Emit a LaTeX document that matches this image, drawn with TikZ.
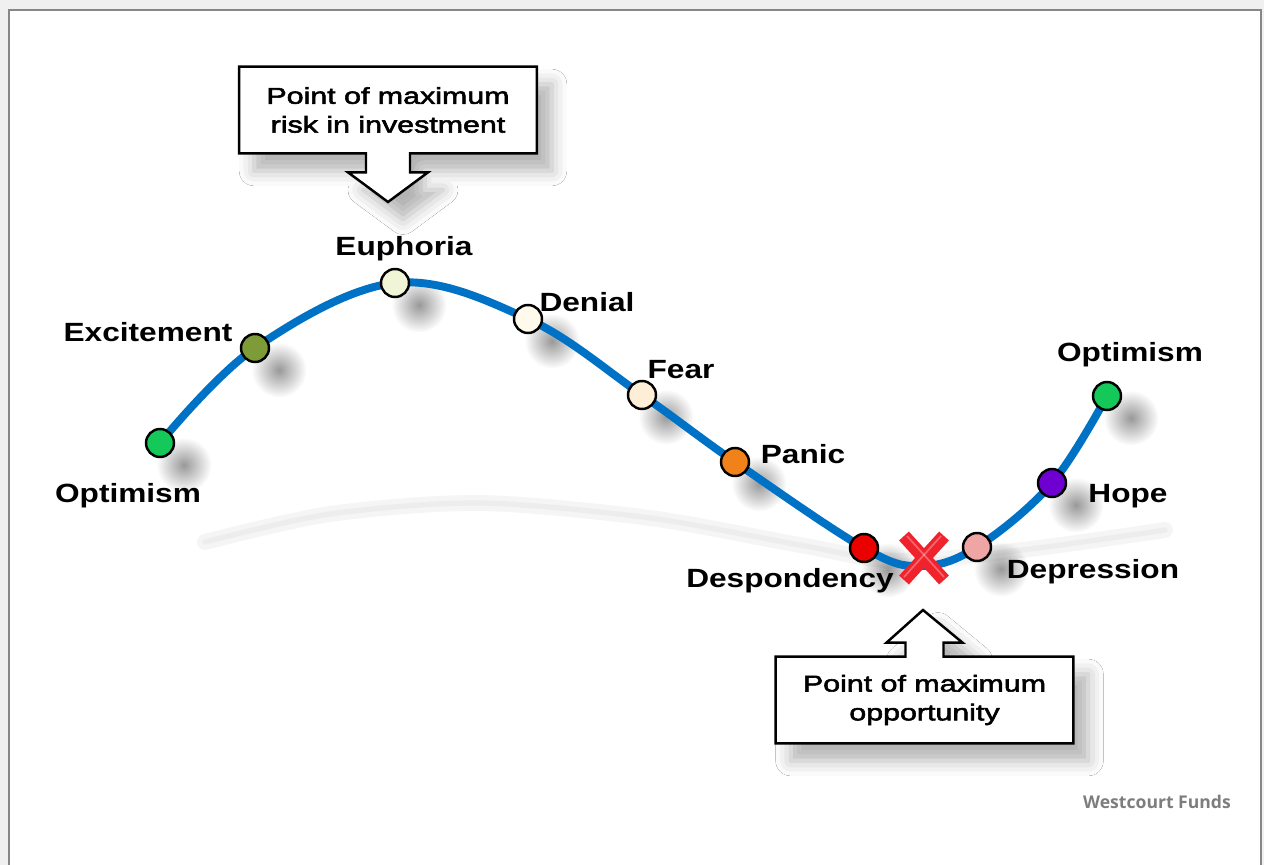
\documentclass[tikz,border=0pt]{standalone}
\usepackage{fontspec}
\newfontfamily\labelfont[FakeStretch=1.2]{Liberation Sans}
\newfontfamily\boxfont[FakeStretch=1.33,FakeBold=2.5]{Liberation Sans}
\newfontfamily\brandfont{Open Sans}
\usetikzlibrary{calc,positioning,backgrounds,shadows.blur,fadings}
\tikzfading[name=softdot, inner color=transparent!20, outer color=transparent!100]
\definecolor{curveblue}{RGB}{0,114,198}
\definecolor{optgreen}{RGB}{20,200,90}
\definecolor{excgreen}{RGB}{125,155,55}
\definecolor{eupcream}{RGB}{240,245,215}
\definecolor{dencream}{RGB}{255,250,235}
\definecolor{feacream}{RGB}{255,238,215}
\definecolor{panorange}{RGB}{240,130,25}
\definecolor{desred}{RGB}{235,0,0}
\definecolor{deppink}{RGB}{240,165,165}
\definecolor{hoppurple}{RGB}{110,0,210}
\definecolor{crossred}{RGB}{240,35,45}
\definecolor{framegray}{RGB}{135,135,135}
\definecolor{brandgray}{RGB}{125,125,125}
\tikzset{stage/.style={circle, draw=black, line width=1.4pt, minimum size=0.56cm, inner sep=0pt}}
\tikzset{stagelabel/.style={font=\labelfont\bfseries\fontsize{15}{18}\selectfont, anchor=base, inner sep=0pt}}
\tikzset{dotshadow/.style={fill=black, opacity=0.5, path fading=softdot}}
\tikzset{callout/.style={draw=black, line width=1.4pt, fill=white,
  blur shadow={shadow xshift=0.3cm, shadow yshift=-0.35cm, shadow blur radius=0.3cm,
  shadow opacity=30}}}
\tikzset{callouttext/.style={font=\boxfont\fontsize{13}{16.4}\selectfont, align=center,
  minimum width=5.94cm, minimum height=1.72cm, inner sep=0pt}}

\begin{document}
\begin{tikzpicture}[x=0.02cm, y=-0.02cm]
  \useasboundingbox (0,0) rectangle (1264,865);
  \node[stage, fill=optgreen] (optA) at (160,443) {};
  \node[stage, fill=excgreen] (exc) at (255,348) {};
  \node[stage, fill=eupcream] (eup) at (395,283) {};
  \node[stage, fill=dencream] (den) at (528,319) {};
  \node[stage, fill=feacream] (fea) at (642,395) {};
  \node[stage, fill=panorange] (pan) at (735,462) {};
  \node[stage, fill=desred] (des) at (864,548) {};
  \coordinate (low) at (921,566);
  \node[stage, fill=deppink] (dep) at (977,547) {};
  \node[stage, fill=hoppurple] (hop) at (1052,483) {};
  \node[stage, fill=optgreen] (optB) at (1107,396) {};

  \node[stagelabel] at (128,502) {Optimism};
  \node[stagelabel] at (148,341) {Excitement};
  \node[stagelabel] at (404,255) {Euphoria};
  \node[stagelabel] at (587,311) {Denial};
  \node[stagelabel] at (681,378) {Fear};
  \node[stagelabel] at (803,463) {Panic};
  \node[stagelabel] at (790,587) {Despondency};
  \node[stagelabel] at (1093,578) {Depression};
  \node[stagelabel] at (1128,502) {Hope};
  \node[stagelabel] at (1130,361) {Optimism};

  \node[callouttext] (risk) at (388,110) {Point of maximum\\risk in investment};
  \coordinate (risktip) at (388,202);
  \node[callouttext] (oppo) at (924.5,700) {Point of maximum\\opportunity};
  \coordinate (oppotip) at (923,610);

  \coordinate (cross) at (924,558);
  \draw[crossred, line width=7.5pt] ($(cross)+(-20,-22)$) -- ($(cross)+(20,22)$);
  \draw[crossred, line width=7.5pt] ($(cross)+(20,-22)$) -- ($(cross)+(-20,22)$);
  \draw[white, opacity=0.3, line width=1pt] ($(cross)+(-17,-22)$) -- ($(cross)+(20,19)$);
  \draw[white, opacity=0.3, line width=1pt] ($(cross)+(17,-22)$) -- ($(cross)+(-20,19)$);

  \node[font=\brandfont\bfseries\fontsize{10}{12}\selectfont, text=brandgray] (brand) at (1157,802) {Westcourt Funds};

  \begin{scope}[on background layer]
    \fill[black!6] (0,0) rectangle (1264,865);
    \fill[white] (9,10) rectangle (1261,870);
    \draw[framegray, line width=1.2pt] (9,870) -- (9,10) -- (1261,10) -- (1261,870);
    \draw[black!4, line width=9pt, line cap=round] plot[smooth] coordinates
      {(205,542) (330,514) (480,503) (650,518) (800,545) (900,561) (1030,549) (1165,530)};
    \draw[black!7, line width=3pt, line cap=round] plot[smooth] coordinates
      {(205,542) (330,514) (480,503) (650,518) (800,545) (900,561) (1030,549) (1165,530)};
    \draw[callout] (risk.north west) -- (risk.north east) -- (risk.south east)
      -- ($(risk.south)+(22,0)$) -- ++(0,19) -- ++(18,0) -- (risktip)
      -- ($(risk.south)+(-40,19)$) -- ++(18,0) -- ++(0,-19) -- (risk.south west) -- cycle;
    \draw[callout] (oppo.south west) -- (oppo.north west)
      -- ($(oppo.north)+(-19,0)$) -- ++(0,-14) -- ++(-19,0) -- (oppotip)
      -- ($(oppo.north)+(38,-14)$) -- ++(-19,0) -- ++(0,14) -- (oppo.north east) -- (oppo.south east) -- cycle;
    \foreach \p in {optA,exc,eup,den,fea,pan,des,dep,hop,optB}
      \fill[dotshadow] ($(\p)+(24,22)$) circle (0.55cm);
    \draw[curveblue, line width=4.5pt] plot[smooth, tension=0.6] coordinates
      {(optA) (exc) (eup) (den) (fea) (pan) (des) (low) (dep) (hop) (optB)};
  \end{scope}
\end{tikzpicture}
\end{document}
